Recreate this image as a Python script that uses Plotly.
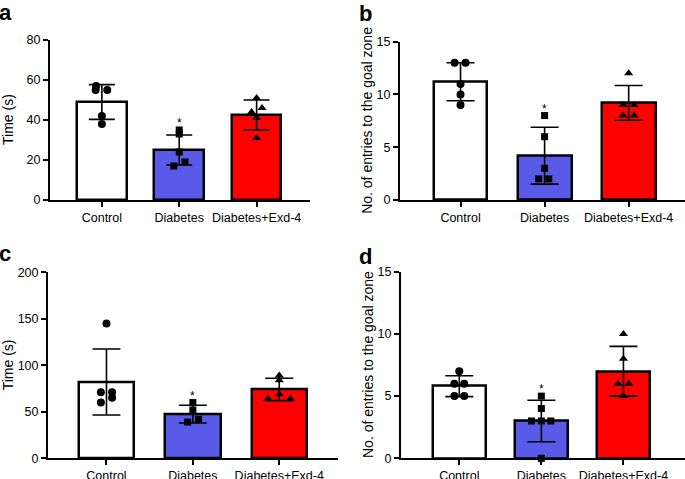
import plotly.graph_objects as go

# Categories and colours of the groups
categories = ["Control", "Diabetes", "Diabetes+Exd-4"]
bar_colors = ["#FFFFFF", "#5A5AE8", "#FF0000"]
symbols = ["circle", "square", "triangle-up"]

# Panel a - time (s)
a_means = [49, 25, 42.5]
a_sd = [8.7, 7.5, 7.5]
a_control = [57, 55, 55, 42, 38]
a_diabetes = [35, 33, 24, 19, 17]
a_exd = [51, 46, 44, 41, 31]

# Panel b - entries to the goal zone
b_means = [11.2, 4.2, 9.2]
b_sd = [1.8, 2.7, 1.65]
b_control = [13, 13, 11, 10, 9]
b_diabetes = [8, 6, 3, 2, 2]
b_exd = [12, 9, 9, 8, 8]

# Panel c - time (s)
c_means = [82, 47.5, 74]
c_sd = [35.5, 9.5, 12]
c_control = [145, 71, 71, 60, 65]
c_diabetes = [60, 52, 42, 39]
c_exd = [89, 84, 69, 64, 64]

# Panel d - entries to the goal zone
d_means = [5.8, 3.0, 7.0]
d_sd = [0.84, 1.67, 2.0]
d_control = [7, 6, 6, 5, 5]
d_diabetes = [5, 4, 3, 3, 3, 0]
d_exd = [10, 8, 6, 6, 5]

# horizontal scatter of the points (category units), kept apart from the values
a_jit = [[-0.075, -0.08, 0.07, 0, 0], [0, 0, 0, 0.075, -0.07], [0, 0.07, -0.065, 0, 0]]
b_jit = [[-0.07, 0.06, 0, 0, 0], [0, 0, 0, -0.07, 0.05], [0, -0.065, 0.065, -0.065, 0.065]]
c_jit = [[0, -0.065, 0.065, -0.065, 0.065], [0, 0, 0.065, -0.06], [0, 0, 0, -0.13, 0.13]]
d_jit = [[0, -0.06, 0.06, -0.06, 0.06], [0, 0, -0.12, 0, 0.115, 0], [0, 0, -0.065, 0.065, 0]]

W, H = 685, 479
FONT = "Arial, Liberation Sans, sans-serif"

panels = [
    dict(letter="a", means=a_means, sd=a_sd, pts=[a_control, a_diabetes, a_exd], jit=a_jit,
         title="Time (s)", yrange=[0, 80], dtick=20, xrange=[-0.67, 2.69],
         px=(50, 310), py=(40, 200), cap=13, title_x=8, letter_xy=(-3, -2)),
    dict(letter="b", means=b_means, sd=b_sd, pts=[b_control, b_diabetes, b_exd], jit=b_jit,
         title="No. of entries to the goal zone", yrange=[0, 15], dtick=5, xrange=[-0.72, 2.67],
         px=(400, 685), py=(41.7, 200), cap=14, title_x=367, letter_xy=(357, -1)),
    dict(letter="c", means=c_means, sd=c_sd, pts=[c_control, c_diabetes, c_exd], jit=c_jit,
         title="Time (s)", yrange=[0, 200], dtick=50, xrange=[-0.677, 2.68],
         px=(48, 338), py=(272.3, 458.3), cap=14, title_x=8, letter_xy=(-3, 239)),
    dict(letter="d", means=d_means, sd=d_sd, pts=[d_control, d_diabetes, d_exd], jit=d_jit,
         title="No. of entries to the goal zone", yrange=[0, 15], dtick=5, xrange=[-0.71, 2.75],
         px=(401, 685), py=(271.7, 458.3), cap=14, title_x=368, letter_xy=(357, 242)),
]

fig = go.Figure()
annotations = []

for i, p in enumerate(panels):
    n = "" if i == 0 else str(i + 1)
    xa, ya = "x" + n, "y" + n

    # bars with SD error bars
    fig.add_trace(go.Bar(
        x=[0, 1, 2], y=p["means"], width=0.64,
        marker=dict(color=bar_colors, line=dict(color="black", width=2.5)),
        error_y=dict(type="data", array=p["sd"], visible=True, color="black",
                     thickness=1.6, width=p["cap"]),
        xaxis=xa, yaxis=ya, showlegend=False, hoverinfo="skip",
    ))

    # individual animals
    for g in range(3):
        vals = p["pts"][g]
        xs = [g + j for j in p["jit"][g]]
        fig.add_trace(go.Scatter(
            x=xs, y=vals, mode="markers",
            marker=dict(symbol=symbols[g], color="black", size=8 if g != 1 else 7),
            xaxis=xa, yaxis=ya, showlegend=False, hoverinfo="skip", cliponaxis=False,
        ))

    # significance star above the Diabetes group
    annotations.append(dict(
        x=1, y=max(p["pts"][1]), xref=xa, yref=ya, text="*", showarrow=False,
        yanchor="middle", yshift=7, font=dict(family=FONT, size=12, color="black"),
    ))

    # y title
    annotations.append(dict(
        x=p["title_x"] / W, y=1 - (p["py"][0] + p["py"][1]) / 2 / H, xref="paper", yref="paper",
        text=p["title"], textangle=-90, showarrow=False, xanchor="center", yanchor="middle",
        font=dict(family=FONT, size=14, color="black"),
    ))

    # panel letter
    annotations.append(dict(
        x=p["letter_xy"][0] / W, y=1 - p["letter_xy"][1] / H, xref="paper", yref="paper",
        text="<b>%s</b>" % p["letter"], showarrow=False, xanchor="left", yanchor="top",
        font=dict(family=FONT, size=22, color="black"),
    ))

    axis_common = dict(showline=True, linecolor="black", linewidth=2, ticks="outside",
                       ticklen=5, tickwidth=1.6, tickcolor="black", showgrid=False,
                       zeroline=False, automargin=False,
                       tickfont=dict(family=FONT, size=12.5, color="black"))
    fig.update_layout({
        "xaxis" + n: dict(axis_common, domain=[p["px"][0] / W, p["px"][1] / W],
                          range=p["xrange"], tickvals=[0, 1, 2], ticktext=categories,
                          anchor=ya, fixedrange=True),
        "yaxis" + n: dict(axis_common, domain=[1 - p["py"][1] / H, 1 - p["py"][0] / H],
                          range=p["yrange"], dtick=p["dtick"], anchor=xa, fixedrange=True),
    })

fig.update_layout(
    width=W, height=H,
    autosize=False,
    margin=dict(l=0, r=0, t=0, b=0, pad=0),
    paper_bgcolor="white", plot_bgcolor="white",
    annotations=annotations,
    bargap=0,
    font=dict(family=FONT, color="black"),
)

# drop the default page margin so the figure sits at the window's top-left corner
fig.write_html("out.html", config={"displayModeBar": False},
               post_script="document.body.style.margin='0px';")
